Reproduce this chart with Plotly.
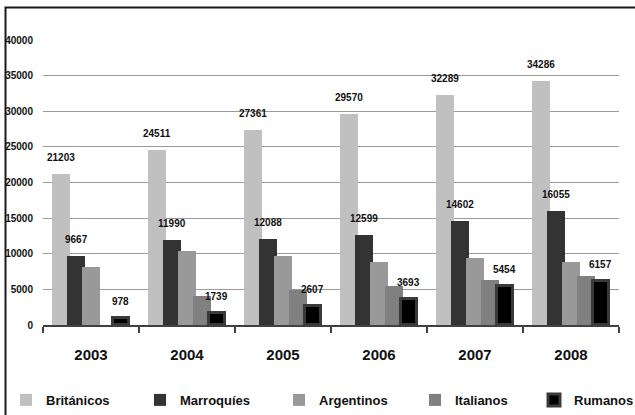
import plotly.graph_objects as go

# Foreign residents by nationality, 2003-2008
years = ["2003", "2004", "2005", "2006", "2007", "2008"]
britanicos = [21203, 24511, 27361, 29570, 32289, 34286]
marroquies = [9667, 11990, 12088, 12599, 14602, 16055]
argentinos = [8200, 10400, 9700, 8900, 9450, 8800]
italianos = [None, 4050, 4900, 5450, 6250, 6850]
rumanos = [978, 1739, 2607, 3693, 5454, 6157]

series_names = ["Británicos", "Marroquíes", "Argentinos", "Italianos", "Rumanos"]
series_values = [britanicos, marroquies, argentinos, italianos, rumanos]
series_colors = ["#c0c0c0", "#333333", "#999999", "#808080", "#000000"]
labelled = {"Británicos", "Marroquíes", "Rumanos"}

FONT = "Liberation Sans, Arial, sans-serif"

bar_w = 0.18
pitch = 0.156
xpos = list(range(len(years)))

# legend item left edges in pixels, converted to paper coords
plot_left, plot_width = 43, 576
legend_px = [6, 140, 279, 415, 534]

fig = go.Figure()
for k, (name, vals, color) in enumerate(zip(series_names, series_values, series_colors)):
    center = (k - 2) * pitch
    is_outlined = name == "Rumanos"
    w = bar_w - (0.02 if is_outlined else 0)
    line = dict(color="#3a3a3a", width=3) if is_outlined else dict(color=color, width=0)
    fig.add_bar(
        x=xpos, y=vals, name=name,
        width=w, offset=center - w / 2,
        marker=dict(color=color, line=line),
        legend="legend" if k == 0 else f"legend{k + 1}",
    )
    if name in labelled:
        for i, v in enumerate(vals):
            fig.add_annotation(
                x=i + center, y=v, text=f"<b>{v}</b>", showarrow=False,
                yanchor="bottom", yshift=9,
                font=dict(size=10, family=FONT, color="#111111"),
            )

legend_common = dict(
    orientation="h", yanchor="middle", y=-0.263, xanchor="left",
    font=dict(size=13, family=FONT, color="#111111", weight="bold"),
    bgcolor="rgba(0,0,0,0)", borderwidth=0,
)
legend_layout = {}
for k, px in enumerate(legend_px):
    key = "legend" if k == 0 else f"legend{k + 1}"
    legend_layout[key] = dict(legend_common, x=(px - plot_left) / plot_width)

fig.update_layout(
    width=635, height=415,
    margin=dict(l=43, r=16, t=40, b=90, autoexpand=False),
    paper_bgcolor="white", plot_bgcolor="white",
    barmode="overlay", bargap=0,
    showlegend=True,
    **legend_layout,
)

fig.update_xaxes(
    range=[-0.5, len(years) - 0.5],
    tickmode="array", tickvals=xpos, ticktext=[f"<b>{y}</b>" for y in years],
    tickfont=dict(size=15, family=FONT, color="#111111"),
    ticks="", ticklabelstandoff=15,
    showgrid=False, zeroline=False,
    showline=True, linecolor="#404040", linewidth=1.5,
    minor=dict(
        tickmode="array", tickvals=[i - 0.5 for i in range(len(years) + 1)],
        ticks="outside", ticklen=6, tickwidth=1.5, tickcolor="#404040", showgrid=False,
    ),
)
fig.update_yaxes(
    range=[0, 40000], tickmode="linear", tick0=0, dtick=5000,
    tickformat="d",
    tickfont=dict(size=10, family=FONT, color="#111111", weight="bold"),
    ticks="", ticklabelstandoff=9,
    showgrid=True, gridcolor="#9a9a9a", gridwidth=1,
    zeroline=False, showline=False,
)

# outer frame of the chart
fig.add_shape(
    type="rect", xref="paper", yref="paper", layer="above",
    x0=(5.5 - plot_left) / plot_width, x1=(660 - plot_left) / plot_width,
    y0=(325 - 440) / 285, y1=(325 - 7.5) / 285,
    line=dict(color="#1a1a1a", width=2), fillcolor="rgba(0,0,0,0)",
)

fig.write_html("out.html")
